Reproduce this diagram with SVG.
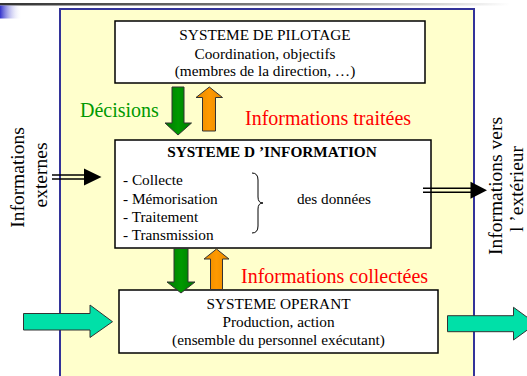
<svg xmlns="http://www.w3.org/2000/svg" width="527" height="376" viewBox="0 0 527 376" font-family="'Liberation Serif', serif">
<defs>
<linearGradient id="bar" x1="0" x2="1" y1="0" y2="0"><stop offset="0" stop-color="#333"/><stop offset="0.6" stop-color="#888"/><stop offset="1" stop-color="#fff"/></linearGradient>
<linearGradient id="sq" x1="0" x2="1" y1="0" y2="0"><stop offset="0" stop-color="#3333cc"/><stop offset="1" stop-color="#fff" stop-opacity="0"/></linearGradient>
<linearGradient id="grn" x1="0" x2="1" y1="0" y2="0"><stop offset="0" stop-color="#007a00"/><stop offset="0.5" stop-color="#009900"/><stop offset="1" stop-color="#007a00"/></linearGradient>
<linearGradient id="org" x1="0" x2="1" y1="0" y2="0"><stop offset="0" stop-color="#e68a00"/><stop offset="0.5" stop-color="#ff9900"/><stop offset="1" stop-color="#e68a00"/></linearGradient>
</defs>
<style>
.box{fill:#fff;stroke:#000;stroke-width:1.5}
.t{font-family:'Liberation Serif','Times New Roman',serif;fill:#000}
.c{text-anchor:middle}
.s13{font-size:15.3px}
.s12{font-size:15.2px}
.big{font-size:20px}
.rot{font-size:19.5px}
.red{fill:#ff0000}
.gt{fill:#009900}
.ga{fill:url(#grn);stroke:#333;stroke-width:1}
.oa{fill:url(#org);stroke:#333;stroke-width:1}
.ta{fill:#00e0a8;stroke:#333;stroke-width:1}
.dl{stroke:#000;stroke-width:1.5;fill:none}
</style>
<rect x="0" y="0" width="527" height="376" fill="#fff"/>
<rect x="0" y="3" width="510" height="2.5" fill="url(#bar)"/>
<rect x="0" y="5.5" width="22" height="13" fill="url(#sq)"/>
<rect x="60" y="9" width="414" height="372" fill="#ffffcc" stroke="#333399" stroke-width="2"/>

<g id="pilotage">
<rect class="box" x="115" y="21" width="310" height="62"/>
<text class="t c s13" x="265" y="40">SYSTEME DE PILOTAGE</text>
<text class="t c s13" x="265" y="58.5">Coordination, objectifs</text>
<text class="t c s13" x="265" y="76">(membres de la direction, …)</text>
</g>

<g id="information">
<rect class="box" x="115" y="140" width="316" height="108"/>
<text class="t c s13" x="272" y="157" font-weight="bold">SYSTEME D ’INFORMATION</text>
<text class="t s13" x="123" y="185.3">- Collecte</text>
<text class="t s13" x="123" y="204">- Mémorisation</text>
<text class="t s13" x="123" y="221.7">- Traitement</text>
<text class="t s13" x="123" y="240">- Transmission</text>
<path d="M252,173 Q258,173 258,180 L258,197 Q258,203 263,203 Q258,203 258,209 L258,226 Q258,233 252,233" fill="none" stroke="#000" stroke-width="1"/>
<text class="t s12" x="297" y="204">des données</text>
</g>

<g id="operant">
<rect class="box" x="119" y="290" width="319" height="63"/>
<text class="t c s13" x="278.5" y="309">SYSTEME OPERANT</text>
<text class="t c s13" x="278.5" y="326.7">Production, action</text>
<text class="t c s13" x="278.5" y="345">(ensemble du personnel exécutant)</text>
</g>

<g id="labels">
<text class="t big gt" x="80" y="117.3">Décisions</text>
<text class="t big red" x="245" y="125">Informations traitées</text>
<text class="t big red" x="241" y="282.7">Informations collectées</text>
<text class="t rot c" transform="translate(24,177.5) rotate(-90)">Informations</text>
<text class="t rot c" transform="translate(46.5,175) rotate(-90)">externes</text>
<text class="t rot c" transform="translate(502,186) rotate(-90)">Informations vers</text>
<text class="t rot c" transform="translate(523,189) rotate(-90)">l ’extérieur</text>
</g>

<g id="connectors">
<polygon class="ga" points="172,87 184,87 184,123 191.5,123 178,135 165,123 172,123"/>
<polygon class="oa" points="202.5,131 215.5,131 215.5,97.5 222.5,97.5 209.3,87 196,97.5 202.5,97.5"/>
<polygon class="ga" points="174,248.5 188,248.5 188,282 195,282 181,293 167,282 174,282"/>
<polygon class="oa" points="210.5,289.5 222.5,289.5 222.5,259 229,259 216.5,249 204,259 210.5,259"/>
<line class="dl" x1="52" y1="175" x2="88" y2="175"/>
<line class="dl" x1="52" y1="179" x2="88" y2="179"/>
<polygon points="84,168.5 101.5,177 84,185.5" fill="#000"/>
<line class="dl" x1="423" y1="188.3" x2="474" y2="188.3"/>
<line class="dl" x1="423" y1="192.3" x2="474" y2="192.3"/>
<polygon points="470.5,181.8 487,190.3 470.5,198.8" fill="#000"/>
<polygon class="ta" points="23.5,313.5 90,313.5 90,305 112.5,321.7 90,337.5 90,330 23.5,330"/>
<polygon class="ta" points="447.5,315.7 513.5,315.7 513.5,307.3 536,323.7 513.5,340 513.5,331.7 447.5,331.7"/>
</g>
</svg>
